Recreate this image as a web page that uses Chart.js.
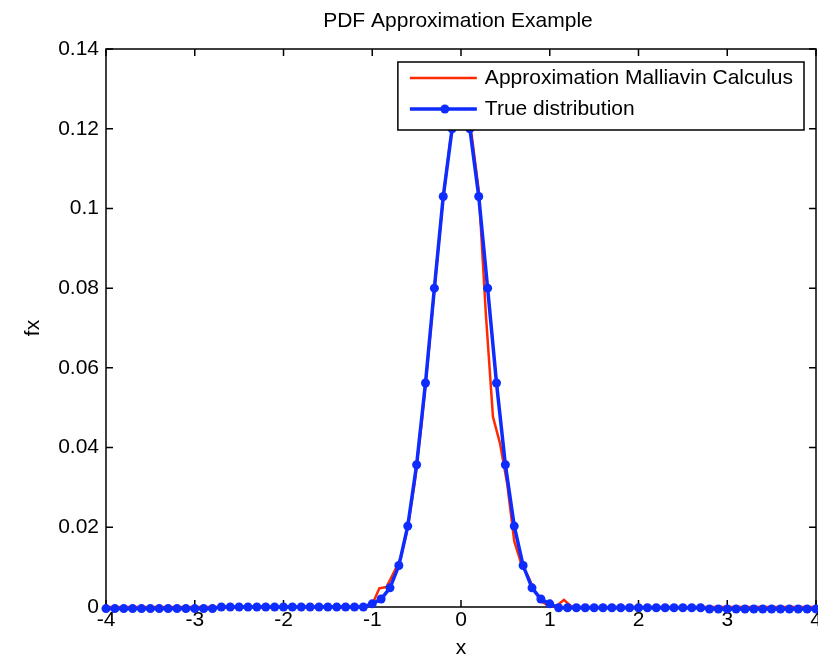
<!DOCTYPE html>
<html>
<head>
<meta charset="utf-8">
<title>PDF Approximation Example</title>
<script src="https://cdn.jsdelivr.net/npm/chart.js@4/dist/chart.umd.min.js"></script>
<style>
  html, body { margin: 0; padding: 0; background: #fff; }
  #wrap { width: 818px; height: 658px; }
</style>
</head>
<body>
<div id="wrap"><canvas id="pdfChart" width="818" height="658"></canvas></div>
<script>
// x grid of the true distribution (-4 .. 4, step 0.1)
const trueX = [
  -4.0, -3.9, -3.8, -3.7, -3.6, -3.5, -3.4, -3.3, -3.2, -3.1,
  -3.0, -2.9, -2.8, -2.7, -2.6, -2.5, -2.4, -2.3, -2.2, -2.1,
  -2.0, -1.9, -1.8, -1.7, -1.6, -1.5, -1.4, -1.3, -1.2, -1.1,
  -1.0, -0.9, -0.8, -0.7, -0.6, -0.5, -0.4, -0.3, -0.2, -0.1,
  0.0, 0.1, 0.2, 0.3, 0.4, 0.5, 0.6, 0.7, 0.8, 0.9,
  1.0, 1.1, 1.2, 1.3, 1.4, 1.5, 1.6, 1.7, 1.8, 1.9,
  2.0, 2.1, 2.2, 2.3, 2.4, 2.5, 2.6, 2.7, 2.8, 2.9,
  3.0, 3.1, 3.2, 3.3, 3.4, 3.5, 3.6, 3.7, 3.8, 3.9, 4.0
];
const trueFx = [
  -0.0004, -0.0004, -0.0004, -0.0004, -0.0004, -0.0004, -0.0004, -0.0004, -0.0004, -0.0004,
  -0.0004, -0.0004, -0.0004, 0, 0, 0, 0, 0, 0, 0,
  0, 0, 0, 0, 0, 0, 0, 0, 0, 0,
  0.0008, 0.0020, 0.0048, 0.0104, 0.0203, 0.0357, 0.0562, 0.0800, 0.1030, 0.1200,
  0.1265, 0.1200, 0.1030, 0.0800, 0.0562, 0.0357, 0.0203, 0.0104, 0.0048, 0.0020,
  0.0008, -0.0002, -0.0002, -0.0002, -0.0002, -0.0002, -0.0002, -0.0002, -0.0002, -0.0002,
  -0.0002, -0.0002, -0.0002, -0.0002, -0.0002, -0.0002, -0.0002, -0.0002, -0.0005, -0.0005,
  -0.0005, -0.0005, -0.0005, -0.0005, -0.0005, -0.0005, -0.0005, -0.0005, -0.0005, -0.0005, -0.0005
];

// Malliavin calculus approximation (its own grid)
const approxX = [
  -4.0, -1.08, -1.0, -0.92, -0.84, -0.76, -0.68, -0.6, -0.52, -0.44,
  -0.36, -0.28, -0.2, -0.12, -0.04, 0.04, 0.12, 0.2, 0.28, 0.36,
  0.44, 0.52, 0.6, 0.68, 0.76, 0.84, 0.92, 1.0, 1.08, 1.16,
  1.24, 1.32, 4.0
];
const approxFx = [
  0, 0, 0.0006, 0.0047, 0.0050, 0.0085, 0.0122, 0.0200, 0.0315, 0.0468,
  0.0650, 0.0845, 0.1028, 0.1172, 0.1255, 0.1255, 0.1185, 0.1045, 0.0735, 0.0477,
  0.0410, 0.0310, 0.0165, 0.0108, 0.0075, 0.0035, 0.0012, 0.0002, 0.0003, 0.0018,
  0.0002, 0, 0
];

const xTicks = [-4, -3, -2, -1, 0, 1, 2, 3, 4];
const xTickLabels = ["-4", "-3", "-2", "-1", "0", "1", "2", "3", "4"];
const yTicks = [0, 0.02, 0.04, 0.06, 0.08, 0.1, 0.12, 0.14];
const yTickLabels = ["0", "0.02", "0.04", "0.06", "0.08", "0.1", "0.12", "0.14"];
const chartTitle = "PDF Approximation Example";

const FONT = "'Liberation Sans', Arial, sans-serif";
const FONT_SIZE = 21;

// box frame with inward tick marks and x tick labels, drawn under the data
const framePlugin = {
    id: "frame",
    beforeDatasetsDraw(chart) {
        const { ctx, chartArea: a, scales } = chart;
        const len = 7;
        ctx.save();
        ctx.strokeStyle = "#000";
        ctx.lineWidth = 1.5;
        ctx.strokeRect(a.left, a.top, a.right - a.left, a.bottom - a.top);
        ctx.beginPath();
        xTicks.forEach(v => {
            const px = scales.x.getPixelForValue(v);
            ctx.moveTo(px, a.bottom); ctx.lineTo(px, a.bottom - len);
            ctx.moveTo(px, a.top); ctx.lineTo(px, a.top + len);
        });
        yTicks.forEach(v => {
            const py = scales.y.getPixelForValue(v);
            ctx.moveTo(a.left, py); ctx.lineTo(a.left + len, py);
            ctx.moveTo(a.right, py); ctx.lineTo(a.right - len, py);
        });
        ctx.stroke();

        ctx.fillStyle = "#000";
        ctx.font = FONT_SIZE + "px " + FONT;
        ctx.textAlign = "center";
        ctx.textBaseline = "top";
        xTicks.forEach((v, i) => {
            ctx.fillText(xTickLabels[i], scales.x.getPixelForValue(v), a.bottom + 3);
        });

        ctx.textBaseline = "middle";
        ctx.fillText(chartTitle, (a.left + a.right) / 2 - 3, 21);
        ctx.restore();
    }
};

// MATLAB-style legend drawn on top of the curves
const legendPlugin = {
    id: "boxLegend",
    afterDatasetsDraw(chart) {
        const { ctx, chartArea: a } = chart;
        const sets = chart.data.datasets;
        ctx.save();
        ctx.font = FONT_SIZE + "px " + FONT;
        const textW = Math.max(...sets.map(d => ctx.measureText(d.label).width));
        const w = 87 + textW + 11;
        const h = 68;
        const x0 = a.right - 12 - w;
        const y0 = a.top + 13;
        ctx.fillStyle = "#fff";
        ctx.fillRect(x0, y0, w, h);
        ctx.strokeStyle = "#000";
        ctx.lineWidth = 1.5;
        ctx.strokeRect(x0, y0, w, h);
        sets.forEach((d, i) => {
            const y = y0 + 16 + i * 31;
            ctx.strokeStyle = d.borderColor;
            ctx.lineWidth = d.borderWidth;
            ctx.beginPath();
            ctx.moveTo(x0 + 12, y);
            ctx.lineTo(x0 + 79, y);
            ctx.stroke();
            if (d.pointRadius > 0) {
                ctx.fillStyle = d.pointBackgroundColor;
                ctx.beginPath();
                ctx.arc(x0 + 47, y, d.pointRadius, 0, Math.PI * 2);
                ctx.fill();
            }
            ctx.fillStyle = "#000";
            ctx.textBaseline = "middle";
            ctx.textAlign = "left";
            ctx.fillText(d.label, x0 + 87, y);
        });
        ctx.restore();
    }
};

const approxPoints = approxX.map((x, i) => ({ x: x, y: approxFx[i] }));
const truePoints = trueX.map((x, i) => ({ x: x, y: trueFx[i] }));

new Chart(document.getElementById("pdfChart").getContext("2d"), {
    type: "line",
    data: {
        datasets: [
            {
                label: "Approximation Malliavin Calculus",
                data: approxPoints,
                borderColor: "#ff2a00",
                borderWidth: 2.5,
                pointRadius: 0,
                tension: 0,
                clip: false,
                order: 1
            },
            {
                label: "True distribution",
                data: truePoints,
                borderColor: "#0f2cff",
                backgroundColor: "#0f2cff",
                pointBackgroundColor: "#0f2cff",
                borderWidth: 3.5,
                pointRadius: 4.5,
                pointBorderWidth: 0,
                tension: 0,
                clip: false,
                order: 0
            }
        ]
    },
    options: {
        responsive: false,
        animation: false,
        events: [],
        layout: { autoPadding: false, padding: { top: 49, right: 2, bottom: 0, left: 0 } },
        plugins: {
            legend: { display: false },
            tooltip: { enabled: false },
            title: { display: false }
        },
        scales: {
            x: {
                type: "linear",
                min: -4,
                max: 4,
                afterBuildTicks: s => { s.ticks = xTicks.map(v => ({ value: v })); },
                afterFit: s => { s.height = 51; },
                grid: { display: false, drawTicks: false },
                border: { display: false },
                ticks: { display: false },
                title: {
                    display: true,
                    text: "x",
                    color: "#000",
                    font: { family: FONT, size: FONT_SIZE },
                    padding: { top: 0, bottom: -3 }
                }
            },
            y: {
                min: 0,
                max: 0.14,
                afterBuildTicks: s => { s.ticks = yTicks.map(v => ({ value: v })); },
                afterFit: s => { s.width = 106; },
                grid: { display: false, drawTicks: false },
                border: { display: false },
                ticks: {
                    color: "#000",
                    padding: 7,
                    font: { family: FONT, size: FONT_SIZE },
                    callback: (v, i) => yTickLabels[i]
                },
                title: {
                    display: true,
                    text: "fx",
                    color: "#000",
                    font: { family: FONT, size: FONT_SIZE },
                    padding: { top: 21, bottom: 0 }
                }
            }
        }
    },
    plugins: [framePlugin, legendPlugin]
});
</script>
</body>
</html>
